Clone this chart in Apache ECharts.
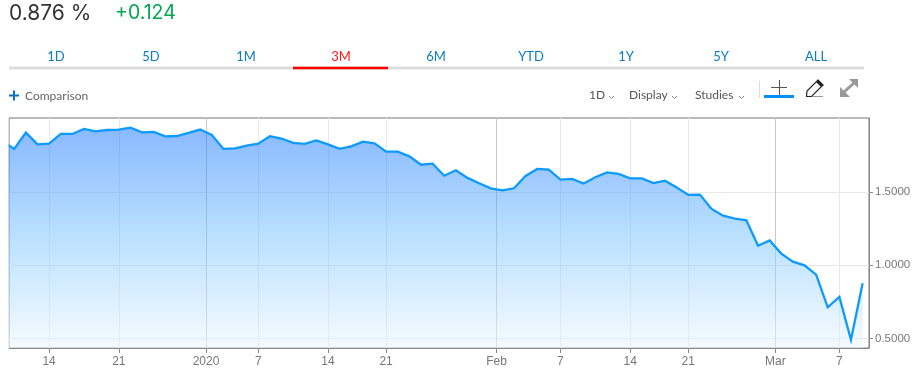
<!DOCTYPE html>
<html><head><meta charset="utf-8">
<style>html,body{margin:0;padding:0;background:#fff}#c{width:919px;height:375px}</style>
<script src="https://cdn.jsdelivr.net/npm/echarts@6/dist/echarts.min.js"></script>
</head><body><div id="c"></div>
<script>
const sessions = Array.from({length:75},(_, i)=>i);
const yields = [1.846,1.794,1.905,1.825,1.830,1.896,1.896,1.930,1.914,1.923,1.926,1.939,1.907,1.910,1.880,1.882,1.903,1.926,1.889,1.794,1.798,1.816,1.830,1.880,1.864,1.835,1.828,1.852,1.825,1.794,1.811,1.844,1.832,1.775,1.775,1.743,1.686,1.693,1.611,1.648,1.596,1.559,1.525,1.511,1.525,1.609,1.657,1.652,1.584,1.589,1.557,1.600,1.634,1.623,1.593,1.593,1.561,1.577,1.531,1.480,1.482,1.384,1.338,1.318,1.306,1.133,1.169,1.079,1.024,0.999,0.935,0.712,0.783,0.491,0.876];
const xTickAt = [4,10,17.5,22,28,33,42.5,48,54,59,66.5,72];
const xTickText = ['14','21','2020','7','14','21','Feb','7','14','21','Mar','7'];
const xTickMajor = [false,false,true,false,false,false,true,false,false,false,true,false];
const yTicks = [0.5,1.0,1.5];
const ranges = ['1D','5D','1M','3M','6M','YTD','1Y','5Y','ALL'];
const activeRange = '3M';
const quote = '0.876 %';
const change = '+0.124';
const tools = [['1D',589],['Display',629],['Studies',695]];

const UI = 'Lato, "Open Sans", sans-serif';
const txt = (x,y,text,size,fill,extra)=>({type:'text',x,y,silent:true,style:Object.assign({text,fontSize:size,fontFamily:UI,fill,textVerticalAlign:'middle'},extra||{})});
const line = (x1,y1,x2,y2,stroke,w)=>({type:'line',silent:true,shape:{x1,y1,x2,y2},style:{stroke,lineWidth:w}});
const chevron = (x,y)=>({type:'polyline',silent:true,shape:{points:[[x,y],[x+2.5,y+2.5],[x+5,y]]},style:{stroke:'#888',lineWidth:1,fill:null}});

const g = [];
g.push({type:'rect',silent:true,z:100,shape:{x:0,y:116,width:8.5,height:234},style:{fill:'#fff'}});
g.push(txt(9,13.5,quote,21,'#333',{fontFamily:'Inter, Lato, sans-serif'}));
g.push(txt(115,13.5,change,19.5,'#00a651',{fontFamily:'Inter, Lato, sans-serif'}));
g.push(line(9,68,864,68,'#dcdcdc',3));
ranges.forEach((r,i)=>{
  const a = r===activeRange;
  if(a) g.push(line(293,68,388,68,'#ff0000',2.5));
  g.push(txt(56+i*95,57,r,13,a?'#ff1a1a':'#0a7cc4',{textAlign:'center'}));
});
g.push(line(9,95.5,19,95.5,'#0a6fc2',2),line(14,90.5,14,100.5,'#0a6fc2',2));
g.push(txt(25,96.5,'Comparison',12,'#666'));
tools.forEach(([t,x])=>{
  g.push(txt(x,95.5,t,12,'#555'));
});
g.push(chevron(609,96),chevron(672,96),chevron(739,96));
g.push(line(759.5,81,759.5,98,'#ddd',1));
g.push(line(771,87.5,787,87.5,'#555',1),line(779.5,80,779.5,95,'#555',1),line(764,96.5,794,96.5,'#0090f5',3));
g.push({type:'polygon',silent:true,shape:{points:[[806.5,96.5],[807,91],[818,80],[823,85],[811.5,96.5]]},style:{fill:'#fff',stroke:'#222',lineWidth:1.2}});
g.push({type:'polygon',silent:true,shape:{points:[[816,82],[818,79.5],[823.5,85],[821,87]]},style:{fill:'#222'}});
g.push(line(812,96.5,823,96.5,'#999',1));
g.push(line(844,92,854,83,'#999',3));
g.push({type:'polygon',silent:true,shape:{points:[[849,79],[858,79],[858,88]]},style:{fill:'#999'}});
g.push({type:'polygon',silent:true,shape:{points:[[840,87],[840,97],[850,97]]},style:{fill:'#999'}});

const chart = echarts.init(document.getElementById('c'),null,{renderer:'canvas'});
chart.setOption({
  animation:false,
  graphic:{elements:g},
  grid:{left:9,top:118,width:860,height:230,show:true,borderColor:'#777',borderWidth:1,backgroundColor:'transparent'},
  xAxis:{type:'value',min:0.55,max:74.55,
    axisLine:{show:true,lineStyle:{color:'#888',width:1}},
    axisTick:{show:true,length:5,lineStyle:{color:'#888'},customValues:xTickAt},
    axisLabel:{customValues:xTickAt,color:'#777',fontSize:12,margin:8,fontFamily:'"Liberation Sans", Arial, sans-serif',
      formatter:v=>xTickText[xTickAt.indexOf(v)]},
    splitLine:{show:true,lineStyle:{color:xTickMajor.map(m=>m?'#c9c9c9':'#e8e8e8'),width:1}}},
  yAxis:{type:'value',position:'right',min:0.4344,max:2.005,
    axisLine:{show:true,lineStyle:{color:'#888',width:1}},
    axisTick:{show:true,length:4,lineStyle:{color:'#888'},customValues:yTicks},
    axisLabel:{customValues:yTicks,color:'#777',fontSize:11.5,margin:6,fontFamily:'"Liberation Sans", Arial, sans-serif',
      formatter:v=>v.toFixed(4)},
    splitLine:{show:true,lineStyle:{color:'#e8e8e8',width:1}}},
  series:[{type:'line',data:sessions.map((s,i)=>[s,yields[i]]),symbol:'none',clip:true,
    lineStyle:{color:'#0d9bfb',width:2.3,join:'miter'},
    areaStyle:{opacity:1,color:{type:'linear',x:0,y:0,x2:0,y2:1,colorStops:[
      {offset:0,color:'rgba(20,115,255,0.5)'},
      {offset:0.5,color:'rgba(120,195,255,0.5)'},
      {offset:1,color:'rgba(235,247,255,0.5)'}]}}}]
});
</script></body></html>
